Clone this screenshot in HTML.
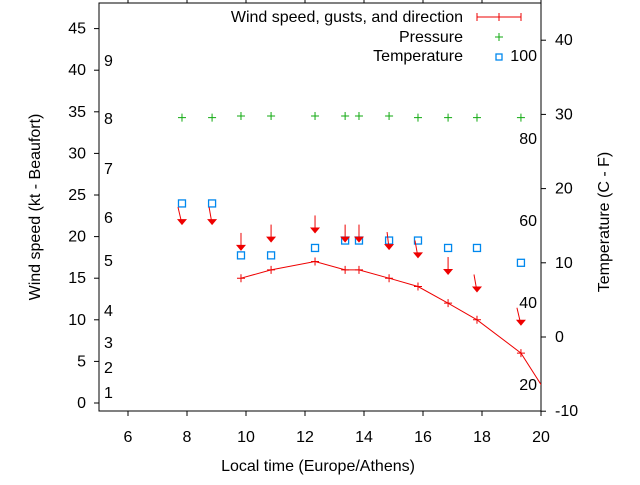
<!DOCTYPE html>
<html><head><meta charset="utf-8"><style>
body{margin:0;background:#fff}
svg{font-family:"Liberation Sans",sans-serif;font-size:14px}
.big{font-size:16px}
</style></head><body>
<svg id="c" width="640" height="480"></svg>
<script>
const times=[7.83,8.85,9.83,10.85,12.34,13.36,13.83,14.85,15.83,16.85,17.83,19.32];
const windTimes=[9.83,10.85,12.34,13.36,13.83,14.85,15.83,16.85,17.83,19.32,20.4];
const windSpeed=[15,16,17,16,16,15,14,12,10,6,0];
const arrowY=[21.5,21.5,18.4,19.4,20.5,19.4,19.4,18.5,17.5,15.5,13.4,9.4];
const arrowDx=[-4,-3,0,0,0,0,0,-2,-3,0,-3,-4];
const temps=[18,18,11,11,12,13,13,13,13,12,12,10];
const pressure=[34.3,34.3,34.5,34.5,34.5,34.5,34.5,34.5,34.3,34.3,34.3,34.3];
const xTicks=[6,8,10,12,14,16,18,20];
const yTicks=[0,5,10,15,20,25,30,35,40,45];
const tTicks=[-10,0,10,20,30,40];
const bft=[[1,393],[2,368],[3,343],[4,311],[5,261],[6,218],[7,169],[8,119],[9,61]];
const fLabels=[[100,56],[80,139],[60,221],[40,303],[20,385]];
const L=99,R=541,T=3,B=411;
const X=v=>98.5+(v-5)*29.5;
const Y=v=>403-v*8.32;
const TY=v=>337-v*7.42;
const svg=document.getElementById('c');const NS='http://www.w3.org/2000/svg';
function el(tag,a,parent){const e=document.createElementNS(NS,tag);for(const k in a)e.setAttribute(k,a[k]);(parent||svg).appendChild(e);return e;}
function txt(s,x,y,anchor,name,cls){const t=el('text',{x:x,y:y,'text-anchor':anchor||'start'});if(cls)t.setAttribute('class',cls);t.textContent=s;

return t;}
const frame=el('rect',{x:L,y:T,width:R-L,height:B-T,fill:'none',stroke:'#000'});


xTicks.forEach(v=>{const x=X(v);el('line',{x1:x,x2:x,y1:B,y2:B+5,stroke:'#000'});el('line',{x1:x,x2:x,y1:T,y2:T-5,stroke:'#000'});txt(String(v),x,442,'middle','x-tick-label','big');});
yTicks.forEach(v=>{const y=Y(v);el('line',{x1:L-5,x2:L,y1:y,y2:y,stroke:'#000'});txt(String(v),86,y+5,'end','y-tick-label','big');});
tTicks.forEach(v=>{const y=TY(v);el('line',{x1:R,x2:R+5,y1:y,y2:y,stroke:'#000'});txt(String(v),555,y+5,'start','temp-tick-label','big');});
bft.forEach(b=>txt(String(b[0]),104,b[1]+5,'start','beaufort-label','big'));
fLabels.forEach(f=>txt(String(f[0]),537,f[1]+5,'end','fahrenheit-label','big'));
txt('Local time (Europe/Athens)',318,471,'middle','x-axis-title','big');
const yt=txt('Wind speed (kt - Beaufort)',0,0,'middle','y-axis-title','big');yt.setAttribute('transform','translate(40,207) rotate(-90)');
const rt=txt('Temperature (C - F)',0,0,'middle','temp-axis-title','big');rt.setAttribute('transform','translate(609,222) rotate(-90)');
// legend
txt('Wind speed, gusts, and direction',463,22,'end','legend-wind-label','big');
el('line',{x1:477,x2:521,y1:17,y2:17,stroke:'#e00'});[477,499,521].forEach(x=>el('line',{x1:x,x2:x,y1:13,y2:21,stroke:'#e00'}));
txt('Pressure',463,42,'end','legend-pressure-label','big');
el('path',{d:'M495,37h8M499,33v8',stroke:'#1a1',fill:'none'});
txt('Temperature',463,61,'end','legend-temp-label','big');
el('rect',{x:496,y:54,width:6,height:6,fill:'none',stroke:'#08e','stroke-width':1.3});
// clip
const cp=el('clipPath',{id:'clip'});el('rect',{x:L,y:T,width:R-L,height:B-T},cp);
const g=el('g',{'clip-path':'url(#clip)'});


const wl=el('polyline',{points:windTimes.map((t,i)=>X(t)+','+Y(windSpeed[i])).join(' '),fill:'none',stroke:'#e00'},g);


windTimes.forEach((t,i)=>{const x=X(t),y=Y(windSpeed[i]);const p=el('path',{d:`M${x-4},${y}h8M${x},${y-4}v8`,stroke:'#e00'},g);

});
times.forEach((t,i)=>{const x=X(t),y=Y(pressure[i]);const p=el('path',{d:`M${x-4},${y}h8M${x},${y-4}v8`,stroke:'#1a1'},g);

});
times.forEach((t,i)=>{const x=X(t),y=TY(temps[i]);const r=el('rect',{x:x-3.5,y:y-3.5,width:7,height:7,fill:'none',stroke:'#08e','stroke-width':1.3},g);

});
times.forEach((t,i)=>{const hx=X(t),hy=Y(arrowY[i]);const tx=hx+arrowDx[i],ty=hy-17;
const a=el('g',{},g);


el('line',{x1:tx,y1:ty,x2:hx,y2:hy,stroke:'#e00','stroke-width':1},a);
el('path',{d:`M${hx-5},${hy-5}L${hx+5},${hy-5}L${hx},${hy+1}Z`,fill:'#e00'},a);});
</script>
</body></html>
